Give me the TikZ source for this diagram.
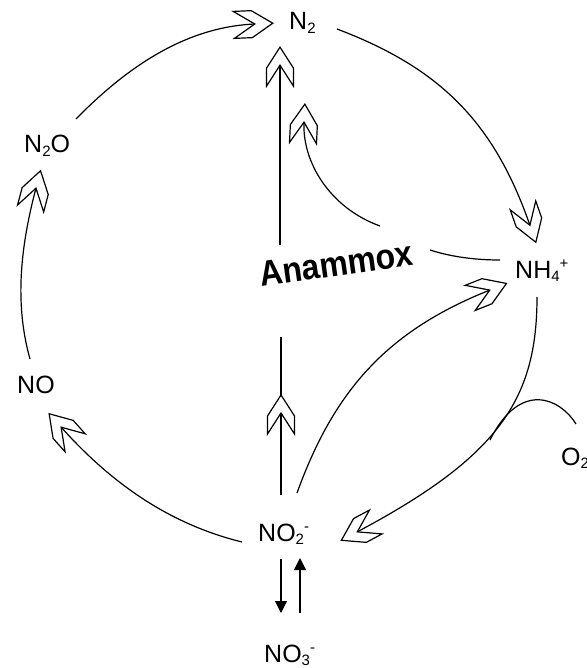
\documentclass[tikz,border=0pt]{standalone}
\usepackage{fontspec}
\setmainfont{Liberation Sans}
\usetikzlibrary{decorations.markings,arrows.meta}

% chemical sub- and superscripts
\newcommand\chsub[1]{\raisebox{-3.5pt}{\fontsize{15}{15}\selectfont #1}}
\newcommand\chsup[1]{\raisebox{10pt}{\fontsize{15}{15}\selectfont #1}}

% hollow chevron head, notch at the origin, pointing along +x
\newcommand\chevronmark{%
  \draw[fill=white,line width=1.2pt,line join=miter]
    (18,0) -- (-3,13.5) -- (-21,13.5) -- (0,0) -- (-21,-13.5) -- (-3,-13.5) -- cycle;}

\tikzset{
  species/.style={inner sep=0pt, anchor=base west, font=\fontsize{25}{30}\selectfont},
  link/.style={line width=1.2pt},
  open head/.style={postaction={decorate,decoration={markings,
      mark=at position 0.999 with {\chevronmark}}}},
  open mid/.style={postaction={decorate,decoration={markings,
      mark=at position #1 with {\chevronmark}}}},
  solid head/.style={-{Triangle[width=12pt,length=12pt]}},
}

\begin{document}
\begin{tikzpicture}[x=1pt,y=-1pt]
  \clip (0,0) rectangle (586,668);

  % species
  \node[species] (n2)  at (289,30)  {N\chsub{2}};
  \node[species] (n2o) at (24,153)  {N\chsub{2}O};
  \node[species] (no)  at (17,393)  {NO};
  \node[species] (no2) at (258,541) {NO\chsub{2}\chsup{-}};
  \node[species] (no3) at (264,662) {NO\chsub{3}\chsup{-}};
  \node[species] (nh4) at (515,278) {NH\chsub{4}\chsup{+}};
  \node[species] (o2)  at (561,465) {O\chsub{2}};
  \node[inner sep=0pt, anchor=base, rotate=8,
        font=\fontsize{33}{36}\selectfont\bfseries] (anammox) at (338,276)
        {\scalebox{0.97}[1.08]{Anammox}};

  % connector end points
  \coordinate (a1s) at (76,119);   \coordinate (a1e) at (255,24);
  \coordinate (a2s) at (337,29);   \coordinate (a2e) at (530,225.5);
  \coordinate (a3s) at (537,297);  \coordinate (a3e) at (357,532);
  \coordinate (a4s) at (242,542);  \coordinate (a4e) at (61,427);
  \coordinate (a5s) at (30,359);   \coordinate (a5e) at (36,188);
  \coordinate (v1s) at (280,245);  \coordinate (v1e) at (280,65);
  \coordinate (v2s) at (281,495);  \coordinate (v2e) at (281,337);
  \coordinate (c1s) at (380,226);  \coordinate (c1e) at (304,122);
  \coordinate (c2s) at (430,250);  \coordinate (c2e) at (500,260);
  \coordinate (c3s) at (297,493);  \coordinate (c3e) at (490,290);
  \coordinate (o2s) at (576,424);  \coordinate (o2e) at (490,440);
  \coordinate (d1s) at (281,559);  \coordinate (d1e) at (281,613);
  \coordinate (d2s) at (300,613);  \coordinate (d2e) at (300,558);

  % outer cycle
  \draw[link, open head] (a1s) .. controls (125,69) and (184,27) .. (a1e);
  \draw[link, open head] (a2s) .. controls (440,68) and (494,122) .. (a2e);
  \draw[link, open head] (a3s) .. controls (537,400) and (498,457) .. (a3e);
  \draw[link, open head] (a4s) .. controls (169,524) and (111,483) .. (a4e);
  \draw[link, open head] (a5s) .. controls (14,302) and (21,245) .. (a5e);

  % oxygen supply joining the nitrification arc
  \draw[link] (o2s) .. controls (560,398) and (520,380) .. (o2e);

  % anammox branch
  \draw[link, open head] (v1s) -- (v1e);
  \draw[link, open mid=82pt] (v2s) -- (v2e);
  \draw[link, open head] (c1s) .. controls (330,208) and (302,162) .. (c1e);
  \draw[link] (c2s) .. controls (455,258) and (480,260) .. (c2e);
  \draw[link, open head] (c3s) .. controls (334.4,389.6) and (387.7,330.7) .. (c3e);

  % nitrite / nitrate exchange
  \draw[link, solid head] (d1s) -- (d1e);
  \draw[link, solid head] (d2s) -- (d2e);
\end{tikzpicture}
\end{document}
